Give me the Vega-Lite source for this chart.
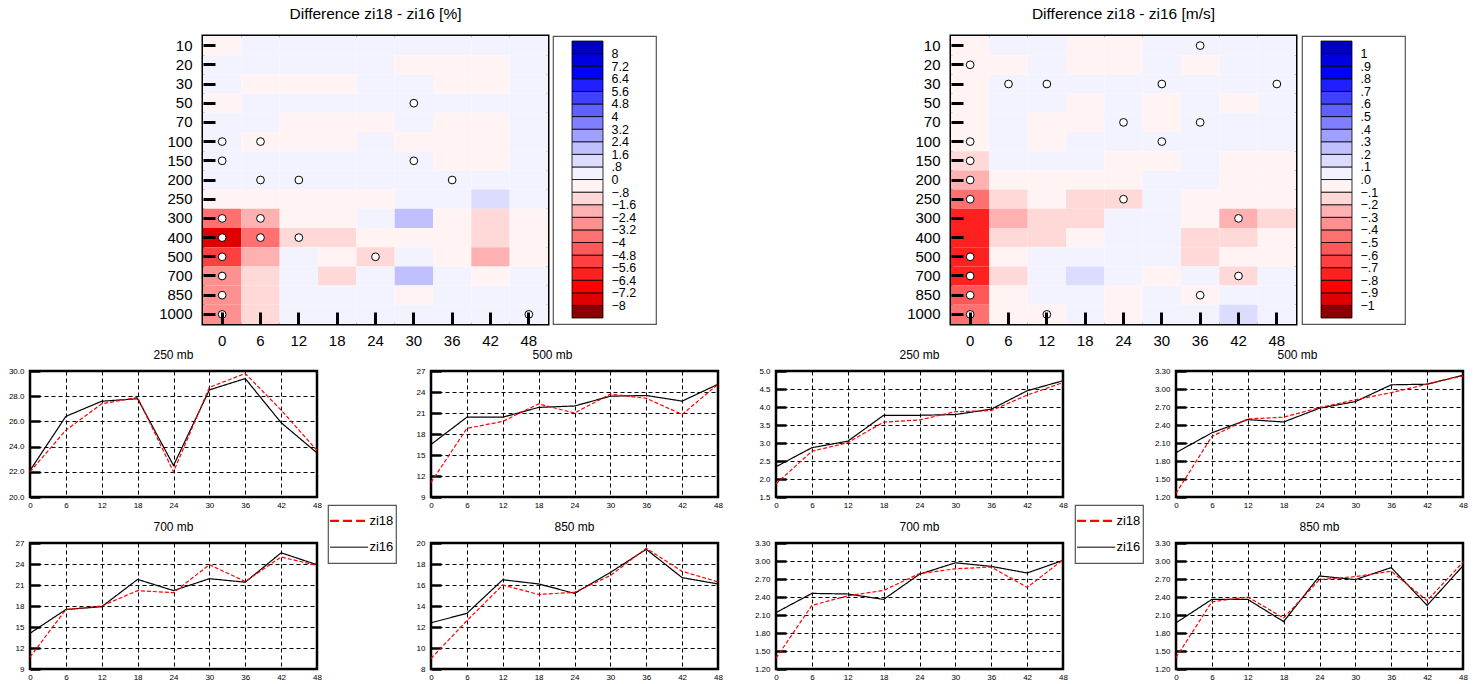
{
"$schema": "https://vega.github.io/schema/vega-lite/v6.json",
"padding": {"top": 5, "left": 0, "right": 0, "bottom": 0},
"config": {"font": "Liberation Sans", "axis": {"labelFlush": false, "labelOverlap": false, "labelColor": "black", "tickColor": "black", "gridColor": "black", "domain": false}, "title": {"color": "black", "fontWeight": "normal"}},
"datasets": {
"pct": [
{"p":10,"t":0,"v":-0.2},{"p":10,"t":6,"v":0.2},{"p":10,"t":12,"v":0.2},{"p":10,"t":18,"v":0.2},{"p":10,"t":24,"v":0.2},{"p":10,"t":30,"v":0.2},{"p":10,"t":36,"v":0.2},{"p":10,"t":42,"v":0.1},{"p":10,"t":48,"v":0.2},
{"p":20,"t":0,"v":0.2},{"p":20,"t":6,"v":0.2},{"p":20,"t":12,"v":0.2},{"p":20,"t":18,"v":0.1},{"p":20,"t":24,"v":0.05},{"p":20,"t":30,"v":-0.2},{"p":20,"t":36,"v":-0.3},{"p":20,"t":42,"v":-0.3},{"p":20,"t":48,"v":0.2},
{"p":30,"t":0,"v":0.1},{"p":30,"t":6,"v":-0.3},{"p":30,"t":12,"v":-0.3},{"p":30,"t":18,"v":-0.2},{"p":30,"t":24,"v":0.1},{"p":30,"t":30,"v":0.1},{"p":30,"t":36,"v":-0.2},{"p":30,"t":42,"v":-0.2},{"p":30,"t":48,"v":0.1},
{"p":50,"t":0,"v":-0.2},{"p":50,"t":6,"v":0.2},{"p":50,"t":12,"v":0.2},{"p":50,"t":18,"v":0.2},{"p":50,"t":24,"v":0.2},{"p":50,"t":30,"v":0.3,"c":1},{"p":50,"t":36,"v":0.2},{"p":50,"t":42,"v":0.2},{"p":50,"t":48,"v":0.2},
{"p":70,"t":0,"v":0.2},{"p":70,"t":6,"v":0.2},{"p":70,"t":12,"v":-0.1},{"p":70,"t":18,"v":-0.3},{"p":70,"t":24,"v":-0.2},{"p":70,"t":30,"v":0.2},{"p":70,"t":36,"v":-0.3},{"p":70,"t":42,"v":-0.3},{"p":70,"t":48,"v":0.05},
{"p":100,"t":0,"v":0.2,"c":1},{"p":100,"t":6,"v":-0.3,"c":1},{"p":100,"t":12,"v":-0.3},{"p":100,"t":18,"v":-0.1},{"p":100,"t":24,"v":0.2},{"p":100,"t":30,"v":-0.1},{"p":100,"t":36,"v":-0.3},{"p":100,"t":42,"v":-0.3},{"p":100,"t":48,"v":0.2},
{"p":150,"t":0,"v":0.1,"c":1},{"p":150,"t":6,"v":0.2},{"p":150,"t":12,"v":0.2},{"p":150,"t":18,"v":0.2},{"p":150,"t":24,"v":0.2},{"p":150,"t":30,"v":0.3,"c":1},{"p":150,"t":36,"v":-0.1},{"p":150,"t":42,"v":-0.1},{"p":150,"t":48,"v":0.2},
{"p":200,"t":0,"v":0.2},{"p":200,"t":6,"v":0.3,"c":1},{"p":200,"t":12,"v":0.3,"c":1},{"p":200,"t":18,"v":0.3},{"p":200,"t":24,"v":0.3},{"p":200,"t":30,"v":0.3},{"p":200,"t":36,"v":0.3,"c":1},{"p":200,"t":42,"v":0.2},{"p":200,"t":48,"v":0.2},
{"p":250,"t":0,"v":-0.6},{"p":250,"t":6,"v":-0.5},{"p":250,"t":12,"v":-0.3},{"p":250,"t":18,"v":-0.2},{"p":250,"t":24,"v":-0.2},{"p":250,"t":30,"v":0.1},{"p":250,"t":36,"v":0.1},{"p":250,"t":42,"v":0.9},{"p":250,"t":48,"v":0.1},
{"p":300,"t":0,"v":-3.5,"c":1},{"p":300,"t":6,"v":-2.0,"c":1},{"p":300,"t":12,"v":-0.5},{"p":300,"t":18,"v":-0.2},{"p":300,"t":24,"v":0.3},{"p":300,"t":30,"v":1.8},{"p":300,"t":36,"v":-0.3},{"p":300,"t":42,"v":-0.9},{"p":300,"t":48,"v":-0.3},
{"p":400,"t":0,"v":-7.5,"c":1},{"p":400,"t":6,"v":-3.5,"c":1},{"p":400,"t":12,"v":-1.0,"c":1},{"p":400,"t":18,"v":-0.9},{"p":400,"t":24,"v":-0.3},{"p":400,"t":30,"v":-0.2},{"p":400,"t":36,"v":-0.3},{"p":400,"t":42,"v":-1.0},{"p":400,"t":48,"v":-0.4},
{"p":500,"t":0,"v":-5.5,"c":1},{"p":500,"t":6,"v":-1.8},{"p":500,"t":12,"v":0.1},{"p":500,"t":18,"v":-0.2},{"p":500,"t":24,"v":-0.9,"c":1},{"p":500,"t":30,"v":0.3},{"p":500,"t":36,"v":-0.3},{"p":500,"t":42,"v":-1.7},{"p":500,"t":48,"v":-0.3},
{"p":700,"t":0,"v":-2.8,"c":1},{"p":700,"t":6,"v":-1.2},{"p":700,"t":12,"v":0.1},{"p":700,"t":18,"v":-1.0},{"p":700,"t":24,"v":0.2},{"p":700,"t":30,"v":1.8},{"p":700,"t":36,"v":0.2},{"p":700,"t":42,"v":-0.3},{"p":700,"t":48,"v":0.2},
{"p":850,"t":0,"v":-2.8,"c":1},{"p":850,"t":6,"v":-1.2},{"p":850,"t":12,"v":0.2},{"p":850,"t":18,"v":0.2},{"p":850,"t":24,"v":0.2},{"p":850,"t":30,"v":-0.3},{"p":850,"t":36,"v":0.2},{"p":850,"t":42,"v":0.2},{"p":850,"t":48,"v":0.2},
{"p":1000,"t":0,"v":-2.5,"c":1},{"p":1000,"t":6,"v":-0.9},{"p":1000,"t":12,"v":0.2},{"p":1000,"t":18,"v":0.1},{"p":1000,"t":24,"v":0.2},{"p":1000,"t":30,"v":0.2},{"p":1000,"t":36,"v":0.2},{"p":1000,"t":42,"v":0.2},{"p":1000,"t":48,"v":0.1,"c":1}
],
"ms": [
{"p":10,"t":0,"v":-0.05},{"p":10,"t":6,"v":0.05},{"p":10,"t":12,"v":0.05},{"p":10,"t":18,"v":-0.05},{"p":10,"t":24,"v":-0.05},{"p":10,"t":30,"v":0.05},{"p":10,"t":36,"v":0.05,"c":1},{"p":10,"t":42,"v":0.05},{"p":10,"t":48,"v":0.05},
{"p":20,"t":0,"v":-0.05,"c":1},{"p":20,"t":6,"v":-0.03},{"p":20,"t":12,"v":0.05},{"p":20,"t":18,"v":-0.05},{"p":20,"t":24,"v":-0.05},{"p":20,"t":30,"v":0.05},{"p":20,"t":36,"v":-0.05},{"p":20,"t":42,"v":0.05},{"p":20,"t":48,"v":0.05},
{"p":30,"t":0,"v":-0.05},{"p":30,"t":6,"v":0.05,"c":1},{"p":30,"t":12,"v":0.05,"c":1},{"p":30,"t":18,"v":0.05},{"p":30,"t":24,"v":0.05},{"p":30,"t":30,"v":0.05,"c":1},{"p":30,"t":36,"v":0.05},{"p":30,"t":42,"v":0.05},{"p":30,"t":48,"v":0.05,"c":1},
{"p":50,"t":0,"v":-0.05},{"p":50,"t":6,"v":0.05},{"p":50,"t":12,"v":0.05},{"p":50,"t":18,"v":-0.05},{"p":50,"t":24,"v":0.05},{"p":50,"t":30,"v":-0.05},{"p":50,"t":36,"v":0.05},{"p":50,"t":42,"v":-0.05},{"p":50,"t":48,"v":0.05},
{"p":70,"t":0,"v":-0.05},{"p":70,"t":6,"v":0.05},{"p":70,"t":12,"v":-0.02},{"p":70,"t":18,"v":-0.05},{"p":70,"t":24,"v":0.05,"c":1},{"p":70,"t":30,"v":-0.05},{"p":70,"t":36,"v":0.05,"c":1},{"p":70,"t":42,"v":0.05},{"p":70,"t":48,"v":0.05},
{"p":100,"t":0,"v":-0.08,"c":1},{"p":100,"t":6,"v":0.05},{"p":100,"t":12,"v":-0.02},{"p":100,"t":18,"v":0.02},{"p":100,"t":24,"v":0.05},{"p":100,"t":30,"v":0.05,"c":1},{"p":100,"t":36,"v":0.03},{"p":100,"t":42,"v":0.05},{"p":100,"t":48,"v":0.05},
{"p":150,"t":0,"v":-0.15,"c":1},{"p":150,"t":6,"v":0.05},{"p":150,"t":12,"v":0.05},{"p":150,"t":18,"v":0.03},{"p":150,"t":24,"v":-0.03},{"p":150,"t":30,"v":-0.03},{"p":150,"t":36,"v":0.05},{"p":150,"t":42,"v":-0.02},{"p":150,"t":48,"v":-0.03},
{"p":200,"t":0,"v":-0.25,"c":1},{"p":200,"t":6,"v":-0.02},{"p":200,"t":12,"v":-0.02},{"p":200,"t":18,"v":-0.05},{"p":200,"t":24,"v":-0.02},{"p":200,"t":30,"v":0.05},{"p":200,"t":36,"v":0.05},{"p":200,"t":42,"v":-0.05},{"p":200,"t":48,"v":-0.05},
{"p":250,"t":0,"v":-0.5,"c":1},{"p":250,"t":6,"v":-0.15},{"p":250,"t":12,"v":-0.05},{"p":250,"t":18,"v":-0.15},{"p":250,"t":24,"v":-0.15,"c":1},{"p":250,"t":30,"v":0.05},{"p":250,"t":36,"v":-0.02},{"p":250,"t":42,"v":-0.1},{"p":250,"t":48,"v":-0.08},
{"p":300,"t":0,"v":-0.8},{"p":300,"t":6,"v":-0.3},{"p":300,"t":12,"v":-0.15},{"p":300,"t":18,"v":-0.12},{"p":300,"t":24,"v":0.02},{"p":300,"t":30,"v":0.05},{"p":300,"t":36,"v":-0.08},{"p":300,"t":42,"v":-0.25,"c":1},{"p":300,"t":48,"v":-0.12},
{"p":400,"t":0,"v":-0.8},{"p":400,"t":6,"v":-0.15},{"p":400,"t":12,"v":-0.12},{"p":400,"t":18,"v":-0.05},{"p":400,"t":24,"v":0.03},{"p":400,"t":30,"v":0.05},{"p":400,"t":36,"v":-0.12},{"p":400,"t":42,"v":-0.15},{"p":400,"t":48,"v":-0.08},
{"p":500,"t":0,"v":-0.8,"c":1},{"p":500,"t":6,"v":-0.1},{"p":500,"t":12,"v":0.02},{"p":500,"t":18,"v":0.05},{"p":500,"t":24,"v":0.05},{"p":500,"t":30,"v":0.05},{"p":500,"t":36,"v":-0.11},{"p":500,"t":42,"v":-0.05},{"p":500,"t":48,"v":-0.05},
{"p":700,"t":0,"v":-0.8,"c":1},{"p":700,"t":6,"v":-0.2},{"p":700,"t":12,"v":0.03},{"p":700,"t":18,"v":0.15},{"p":700,"t":24,"v":0.05},{"p":700,"t":30,"v":-0.05},{"p":700,"t":36,"v":0.05},{"p":700,"t":42,"v":-0.15,"c":1},{"p":700,"t":48,"v":0.05},
{"p":850,"t":0,"v":-0.6,"c":1},{"p":850,"t":6,"v":-0.05},{"p":850,"t":12,"v":0.05},{"p":850,"t":18,"v":0.05},{"p":850,"t":24,"v":-0.05},{"p":850,"t":30,"v":0.05},{"p":850,"t":36,"v":-0.05,"c":1},{"p":850,"t":42,"v":0.05},{"p":850,"t":48,"v":0.05},
{"p":1000,"t":0,"v":-0.45,"c":1},{"p":1000,"t":6,"v":-0.1},{"p":1000,"t":12,"v":-0.03,"c":1},{"p":1000,"t":18,"v":0.05},{"p":1000,"t":24,"v":-0.05},{"p":1000,"t":30,"v":0.05},{"p":1000,"t":36,"v":0.05},{"p":1000,"t":42,"v":0.15},{"p":1000,"t":48,"v":0.05}
],
"legpct": [
{"lo":-8.8,"hi":-8,"m":-8.4},{"lo":-8,"hi":-7.2,"m":-7.6},{"lo":-7.2,"hi":-6.4,"m":-6.8},{"lo":-6.4,"hi":-5.6,"m":-6},{"lo":-5.6,"hi":-4.8,"m":-5.2},{"lo":-4.8,"hi":-4,"m":-4.4},{"lo":-4,"hi":-3.2,"m":-3.6},{"lo":-3.2,"hi":-2.4,"m":-2.8},{"lo":-2.4,"hi":-1.6,"m":-2},{"lo":-1.6,"hi":-0.8,"m":-1.2},{"lo":-0.8,"hi":0,"m":-0.4},
{"lo":0,"hi":0.8,"m":0.4},{"lo":0.8,"hi":1.6,"m":1.2},{"lo":1.6,"hi":2.4,"m":2},{"lo":2.4,"hi":3.2,"m":2.8},{"lo":3.2,"hi":4,"m":3.6},{"lo":4,"hi":4.8,"m":4.4},{"lo":4.8,"hi":5.6,"m":5.2},{"lo":5.6,"hi":6.4,"m":6},{"lo":6.4,"hi":7.2,"m":6.8},{"lo":7.2,"hi":8,"m":7.6},{"lo":8,"hi":8.8,"m":8.4}
],
"legms": [
{"lo":-1.1,"hi":-1,"m":-1.05},{"lo":-1,"hi":-0.9,"m":-0.95},{"lo":-0.9,"hi":-0.8,"m":-0.85},{"lo":-0.8,"hi":-0.7,"m":-0.75},{"lo":-0.7,"hi":-0.6,"m":-0.65},{"lo":-0.6,"hi":-0.5,"m":-0.55},{"lo":-0.5,"hi":-0.4,"m":-0.45},{"lo":-0.4,"hi":-0.3,"m":-0.35},{"lo":-0.3,"hi":-0.2,"m":-0.25},{"lo":-0.2,"hi":-0.1,"m":-0.15},{"lo":-0.1,"hi":0,"m":-0.05},
{"lo":0,"hi":0.1,"m":0.05},{"lo":0.1,"hi":0.2,"m":0.15},{"lo":0.2,"hi":0.3,"m":0.25},{"lo":0.3,"hi":0.4,"m":0.35},{"lo":0.4,"hi":0.5,"m":0.45},{"lo":0.5,"hi":0.6,"m":0.55},{"lo":0.6,"hi":0.7,"m":0.65},{"lo":0.7,"hi":0.8,"m":0.75},{"lo":0.8,"hi":0.9,"m":0.85},{"lo":0.9,"hi":1,"m":0.95},{"lo":1,"hi":1.1,"m":1.05}
],
"lines": [
{"g":"p250","t":0,"zi16":22.1,"zi18":22.0},{"g":"p250","t":6,"zi16":26.4,"zi18":25.3},{"g":"p250","t":12,"zi16":27.6,"zi18":27.4},{"g":"p250","t":18,"zi16":27.8,"zi18":27.9},{"g":"p250","t":24,"zi16":22.5,"zi18":22.0},{"g":"p250","t":30,"zi16":28.5,"zi18":28.7},{"g":"p250","t":36,"zi16":29.4,"zi18":29.8},{"g":"p250","t":42,"zi16":25.9,"zi18":26.9},{"g":"p250","t":48,"zi16":23.5,"zi18":23.7},
{"g":"p500","t":0,"zi16":16.5,"zi18":11.1},{"g":"p500","t":6,"zi16":20.4,"zi18":18.8},{"g":"p500","t":12,"zi16":20.4,"zi18":19.8},{"g":"p500","t":18,"zi16":21.8,"zi18":22.3},{"g":"p500","t":24,"zi16":22.0,"zi18":21.0},{"g":"p500","t":30,"zi16":23.4,"zi18":23.7},{"g":"p500","t":36,"zi16":23.5,"zi18":23.1},{"g":"p500","t":42,"zi16":22.7,"zi18":20.8},{"g":"p500","t":48,"zi16":25.1,"zi18":25.1},
{"g":"p700","t":0,"zi16":14.1,"zi18":10.7},{"g":"p700","t":6,"zi16":17.5,"zi18":17.5},{"g":"p700","t":12,"zi16":17.9,"zi18":18.0},{"g":"p700","t":18,"zi16":21.8,"zi18":20.2},{"g":"p700","t":24,"zi16":20.2,"zi18":19.9},{"g":"p700","t":30,"zi16":21.9,"zi18":23.9},{"g":"p700","t":36,"zi16":21.4,"zi18":21.5},{"g":"p700","t":42,"zi16":25.6,"zi18":25.0},{"g":"p700","t":48,"zi16":23.9,"zi18":23.8},
{"g":"p850","t":0,"zi16":12.4,"zi18":9.0},{"g":"p850","t":6,"zi16":13.3,"zi18":12.6},{"g":"p850","t":12,"zi16":16.5,"zi18":16.0},{"g":"p850","t":18,"zi16":16.1,"zi18":15.1},{"g":"p850","t":24,"zi16":15.2,"zi18":15.3},{"g":"p850","t":30,"zi16":17.2,"zi18":16.9},{"g":"p850","t":36,"zi16":19.4,"zi18":19.5},{"g":"p850","t":42,"zi16":16.7,"zi18":17.3},{"g":"p850","t":48,"zi16":16.1,"zi18":16.3},
{"g":"m250","t":0,"zi16":2.34,"zi18":1.87},{"g":"m250","t":6,"zi16":2.87,"zi18":2.77},{"g":"m250","t":12,"zi16":3.05,"zi18":3.01},{"g":"m250","t":18,"zi16":3.77,"zi18":3.58},{"g":"m250","t":24,"zi16":3.77,"zi18":3.64},{"g":"m250","t":30,"zi16":3.79,"zi18":3.87},{"g":"m250","t":36,"zi16":3.94,"zi18":3.90},{"g":"m250","t":42,"zi16":4.45,"zi18":4.33},{"g":"m250","t":48,"zi16":4.73,"zi18":4.68},
{"g":"m500","t":0,"zi16":1.94,"zi18":1.26},{"g":"m500","t":6,"zi16":2.27,"zi18":2.21},{"g":"m500","t":12,"zi16":2.49,"zi18":2.50},{"g":"m500","t":18,"zi16":2.45,"zi18":2.53},{"g":"m500","t":24,"zi16":2.68,"zi18":2.69},{"g":"m500","t":30,"zi16":2.79,"zi18":2.82},{"g":"m500","t":36,"zi16":3.07,"zi18":2.94},{"g":"m500","t":42,"zi16":3.08,"zi18":3.08},{"g":"m500","t":48,"zi16":3.23,"zi18":3.22},
{"g":"m700","t":0,"zi16":2.14,"zi18":1.38},{"g":"m700","t":6,"zi16":2.46,"zi18":2.26},{"g":"m700","t":12,"zi16":2.45,"zi18":2.42},{"g":"m700","t":18,"zi16":2.36,"zi18":2.51},{"g":"m700","t":24,"zi16":2.78,"zi18":2.79},{"g":"m700","t":30,"zi16":2.97,"zi18":2.87},{"g":"m700","t":36,"zi16":2.91,"zi18":2.90},{"g":"m700","t":42,"zi16":2.80,"zi18":2.56},{"g":"m700","t":48,"zi16":3.01,"zi18":3.02},
{"g":"m850","t":0,"zi16":1.97,"zi18":1.39},{"g":"m850","t":6,"zi16":2.36,"zi18":2.32},{"g":"m850","t":12,"zi16":2.36,"zi18":2.40},{"g":"m850","t":18,"zi16":1.99,"zi18":2.05},{"g":"m850","t":24,"zi16":2.75,"zi18":2.69},{"g":"m850","t":30,"zi16":2.69,"zi18":2.74},{"g":"m850","t":36,"zi16":2.89,"zi18":2.83},{"g":"m850","t":42,"zi16":2.26,"zi18":2.34},{"g":"m850","t":48,"zi16":2.92,"zi18":2.98}
],
"leg": [{"s":"zi18"},{"s":"zi16"}]
},
"resolve": {"scale": {"color": "independent", "strokeDash": "independent"}},
"spacing": -3,
"vconcat": [
{
"spacing": 0,
"resolve": {"scale": {"color": "independent"}},
"hconcat": [
{"width": 157, "height": 1, "data": {"values": []}, "mark": "rect", "view": {"stroke": null}},
{"width": 345, "height": 288,
 "title": {"text": "Difference zi18 - zi16 [%]", "fontSize": 15.5, "offset": 12, "frame": "group"},
 "data": {"name": "pct"},
 "view": {"stroke": "black", "strokeWidth": 3},
 "layer": [
  {"mark": {"type": "rect"},
   "encoding": {
    "x": {"field": "t", "type": "ordinal", "scale": {"domain": [0,6,12,18,24,30,36,42,48]}, "axis": {"orient": "bottom", "title": null, "labelAngle": 0, "labelFontSize": 15, "tickSize": -12, "tickWidth": 3, "labelPadding": 21, "grid": false}},
    "y": {"field": "p", "type": "ordinal", "scale": {"domain": [10,20,30,50,70,100,150,200,250,300,400,500,700,850,1000]}, "axis": {"orient": "left", "title": null, "labelFontSize": 15, "tickSize": -12, "tickWidth": 3, "labelPadding": 23, "grid": false}},
    "color": {"field": "v", "type": "quantitative", "scale": {"type": "threshold", "domain": [-8,-7.2,-6.4,-5.6,-4.8,-4,-3.2,-2.4,-1.6,-0.8,0,0.8,1.6,2.4,3.2,4,4.8,5.6,6.4,7.2,8], "range": ["#8b0000","#e00000","#ff0000","#ff2020","#ff4040","#ff5858","#ff7070","#ff9090","#ffb0b0","#ffd8d8","#fff3f3","#f3f3ff","#dcdcff","#c0c0ff","#a0a0ff","#8080ff","#6060ff","#4040ff","#2020ff","#0000ff","#0000e0","#0000c0"]}, "legend": null}
   }},
  {"transform": [{"filter": "datum.c == 1"}],
   "mark": {"type": "circle", "fill": "white", "stroke": "black", "strokeWidth": 1, "size": 60, "opacity": 1},
   "encoding": {
    "x": {"field": "t", "type": "ordinal", "axis": {"orient": "top", "title": null, "labels": false, "tickSize": -10, "tickWidth": 3, "grid": false}},
    "y": {"field": "p", "type": "ordinal", "axis": {"orient": "right", "title": null, "labels": false, "tickSize": -12, "tickWidth": 3, "grid": false}}
   }}
 ],
 "resolve": {"axis": {"x": "independent", "y": "independent"}}
},
{"width": 1, "height": 1, "data": {"values": []}, "mark": "rect", "view": {"stroke": null}},
{"width": 103, "height": 288,
 "data": {"name": "legpct"},
 "view": {"stroke": "#555", "strokeWidth": 1.2},
 "mark": {"type": "rect", "stroke": "black", "strokeWidth": 0.8},
 "encoding": {
  "x": {"datum": 0, "type": "quantitative", "scale": {"domain": [-0.613, 2.71], "nice": false, "zero": false}, "axis": null},
  "x2": {"datum": 1},
  "y": {"field": "lo", "type": "quantitative", "scale": {"domain": [-9.18, 9.12], "nice": false, "zero": false}, "axis": {"orient": "right", "offset": -53, "values": [-8,-7.2,-6.4,-5.6,-4.8,-4,-3.2,-2.4,-1.6,-0.8,0,0.8,1.6,2.4,3.2,4,4.8,5.6,6.4,7.2,8], "labelExpr": "datum.value == 0 ? '0' : replace(replace(format(datum.value, '.1~f'), '0.', '.'), '-', '−')", "ticks": false, "grid": false, "title": null, "labelFontSize": 12.5, "labelPadding": 8}},
  "y2": {"field": "hi"},
  "color": {"field": "m", "type": "quantitative", "scale": {"type": "threshold", "domain": [-8,-7.2,-6.4,-5.6,-4.8,-4,-3.2,-2.4,-1.6,-0.8,0,0.8,1.6,2.4,3.2,4,4.8,5.6,6.4,7.2,8], "range": ["#8b0000","#e00000","#ff0000","#ff2020","#ff4040","#ff5858","#ff7070","#ff9090","#ffb0b0","#ffd8d8","#fff3f3","#f3f3ff","#dcdcff","#c0c0ff","#a0a0ff","#8080ff","#6060ff","#4040ff","#2020ff","#0000ff","#0000e0","#0000c0"]}, "legend": null}
 }
},
{"width": 248, "height": 1, "data": {"values": []}, "mark": "rect", "view": {"stroke": null}},
{"width": 345, "height": 288,
 "title": {"text": "Difference zi18 - zi16 [m/s]", "fontSize": 15.5, "offset": 12, "frame": "group"},
 "data": {"name": "ms"},
 "view": {"stroke": "black", "strokeWidth": 3},
 "layer": [
  {"mark": {"type": "rect"},
   "encoding": {
    "x": {"field": "t", "type": "ordinal", "scale": {"domain": [0,6,12,18,24,30,36,42,48]}, "axis": {"orient": "bottom", "title": null, "labelAngle": 0, "labelFontSize": 15, "tickSize": -12, "tickWidth": 3, "labelPadding": 21, "grid": false}},
    "y": {"field": "p", "type": "ordinal", "scale": {"domain": [10,20,30,50,70,100,150,200,250,300,400,500,700,850,1000]}, "axis": {"orient": "left", "title": null, "labelFontSize": 15, "tickSize": -12, "tickWidth": 3, "labelPadding": 23, "grid": false}},
    "color": {"field": "v", "type": "quantitative", "scale": {"type": "threshold", "domain": [-1,-0.9,-0.8,-0.7,-0.6,-0.5,-0.4,-0.3,-0.2,-0.1,0,0.1,0.2,0.3,0.4,0.5,0.6,0.7,0.8,0.9,1], "range": ["#8b0000","#e00000","#ff0000","#ff2020","#ff4040","#ff5858","#ff7070","#ff9090","#ffb0b0","#ffd8d8","#fff3f3","#f3f3ff","#dcdcff","#c0c0ff","#a0a0ff","#8080ff","#6060ff","#4040ff","#2020ff","#0000ff","#0000e0","#0000c0"]}, "legend": null}
   }},
  {"transform": [{"filter": "datum.c == 1"}],
   "mark": {"type": "circle", "fill": "white", "stroke": "black", "strokeWidth": 1, "size": 60, "opacity": 1},
   "encoding": {
    "x": {"field": "t", "type": "ordinal", "axis": {"orient": "top", "title": null, "labels": false, "tickSize": -10, "tickWidth": 3, "grid": false}},
    "y": {"field": "p", "type": "ordinal", "axis": {"orient": "right", "title": null, "labels": false, "tickSize": -12, "tickWidth": 3, "grid": false}}
   }}
 ],
 "resolve": {"axis": {"x": "independent", "y": "independent"}}
},
{"width": 2, "height": 1, "data": {"values": []}, "mark": "rect", "view": {"stroke": null}},
{"width": 103, "height": 288,
 "data": {"name": "legms"},
 "view": {"stroke": "#555", "strokeWidth": 1.2},
 "mark": {"type": "rect", "stroke": "black", "strokeWidth": 0.8},
 "encoding": {
  "x": {"datum": 0, "type": "quantitative", "scale": {"domain": [-0.613, 2.71], "nice": false, "zero": false}, "axis": null},
  "x2": {"datum": 1},
  "y": {"field": "lo", "type": "quantitative", "scale": {"domain": [-1.1475, 1.14], "nice": false, "zero": false}, "axis": {"orient": "right", "offset": -53, "values": [-1,-0.9,-0.8,-0.7,-0.6,-0.5,-0.4,-0.3,-0.2,-0.1,0,0.1,0.2,0.3,0.4,0.5,0.6,0.7,0.8,0.9,1], "labelExpr": "datum.value == 0 ? '.0' : replace(replace(format(datum.value, '.1~f'), '0.', '.'), '-', '−')", "ticks": false, "grid": false, "title": null, "labelFontSize": 12.5, "labelPadding": 8}},
  "y2": {"field": "hi"},
  "color": {"field": "m", "type": "quantitative", "scale": {"type": "threshold", "domain": [-1,-0.9,-0.8,-0.7,-0.6,-0.5,-0.4,-0.3,-0.2,-0.1,0,0.1,0.2,0.3,0.4,0.5,0.6,0.7,0.8,0.9,1], "range": ["#8b0000","#e00000","#ff0000","#ff2020","#ff4040","#ff5858","#ff7070","#ff9090","#ffb0b0","#ffd8d8","#fff3f3","#f3f3ff","#dcdcff","#c0c0ff","#a0a0ff","#8080ff","#6060ff","#4040ff","#2020ff","#0000ff","#0000e0","#0000c0"]}, "legend": null}
 }
}
]
},
{
"spacing": 0,
"resolve": {"scale": {"color": "independent", "strokeDash": "independent"}},
"hconcat": [
{"width": 7, "height": 1, "data": {"values": []}, "mark": "rect", "view": {"stroke": null}},
{"spacing": 8, "resolve": {"scale": {"color": "independent", "strokeDash": "independent"}}, "vconcat": [
 {"width": 287, "height": 126, "title": {"text": "250 mb", "fontSize": 12, "offset": 5, "frame": "group"},
  "data": {"name": "lines"}, "transform": [{"filter": "datum.g == 'p250'"}, {"fold": ["zi16", "zi18"], "as": ["s", "y"]}],
  "view": {"stroke": "black", "strokeWidth": 2.5},
  "mark": {"type": "line", "strokeWidth": 1.2},
  "encoding": {
   "x": {"field": "t", "type": "quantitative", "scale": {"domain": [0, 48], "nice": false}, "axis": {"values": [0,6,12,18,24,30,36,42,48], "title": null, "grid": true, "gridDash": [4,3], "ticks": false, "labelFontSize": 8, "labelPadding": 4}},
   "y": {"field": "y", "type": "quantitative", "scale": {"domain": [20, 30], "nice": false, "zero": false}, "axis": {"values": [20,22,24,26,28,30], "format": ".1f", "title": null, "grid": true, "gridDash": [4,3], "tickSize": -10, "tickWidth": 2.5, "labelFontSize": 8, "labelPadding": 16}},
   "color": {"field": "s", "type": "nominal", "scale": {"domain": ["zi16", "zi18"], "range": ["black", "red"]}, "legend": null},
   "strokeDash": {"field": "s", "type": "nominal", "scale": {"domain": ["zi16", "zi18"], "range": [[1, 0], [4, 2]]}, "legend": null}
  }},
 {"width": 287, "height": 126, "title": {"text": "700 mb", "fontSize": 12, "offset": 5, "frame": "group"},
  "data": {"name": "lines"}, "transform": [{"filter": "datum.g == 'p700'"}, {"fold": ["zi16", "zi18"], "as": ["s", "y"]}],
  "view": {"stroke": "black", "strokeWidth": 2.5},
  "mark": {"type": "line", "strokeWidth": 1.2},
  "encoding": {
   "x": {"field": "t", "type": "quantitative", "scale": {"domain": [0, 48], "nice": false}, "axis": {"values": [0,6,12,18,24,30,36,42,48], "title": null, "grid": true, "gridDash": [4,3], "ticks": false, "labelFontSize": 8, "labelPadding": 4}},
   "y": {"field": "y", "type": "quantitative", "scale": {"domain": [9, 27], "nice": false, "zero": false}, "axis": {"values": [9,12,15,18,21,24,27], "format": "d", "title": null, "grid": true, "gridDash": [4,3], "tickSize": -10, "tickWidth": 2.5, "labelFontSize": 8, "labelPadding": 16}},
   "color": {"field": "s", "type": "nominal", "scale": {"domain": ["zi16", "zi18"], "range": ["black", "red"]}, "legend": null},
   "strokeDash": {"field": "s", "type": "nominal", "scale": {"domain": ["zi16", "zi18"], "range": [[1, 0], [4, 2]]}, "legend": null}
  }}
]},
{"width": 4, "height": 1, "data": {"values": []}, "mark": "rect", "view": {"stroke": null}},
{"spacing": 0, "vconcat": [
 {"width": 68, "height": 133, "data": {"values": []}, "mark": "rect", "view": {"stroke": null}},
 {"width": 68, "height": 58, "data": {"name": "leg"}, "view": {"stroke": "#555", "strokeWidth": 1.2},
  "layer": [
   {"transform": [{"filter": "datum.s == 'zi18'"}], "mark": {"type": "rule", "color": "red", "strokeWidth": 2.2, "strokeDash": [9, 4]},
    "encoding": {"x": {"datum": 0.03, "type": "quantitative", "scale": {"domain": [0, 1]}, "axis": null}, "x2": {"datum": 0.59}, "y": {"field": "s", "type": "nominal", "scale": {"type": "point", "domain": ["zi18", "zi16"], "padding": 0.6}, "axis": null}}},
   {"transform": [{"filter": "datum.s == 'zi16'"}], "mark": {"type": "rule", "color": "black", "strokeWidth": 1},
    "encoding": {"x": {"datum": 0.03, "type": "quantitative"}, "x2": {"datum": 0.59}, "y": {"field": "s", "type": "nominal"}}},
   {"mark": {"type": "text", "align": "left", "baseline": "middle", "fontSize": 13, "color": "black"},
    "encoding": {"x": {"datum": 0.61, "type": "quantitative"}, "y": {"field": "s", "type": "nominal"}, "text": {"field": "s"}}}
  ]}
]},
{"width": 17, "height": 1, "data": {"values": []}, "mark": "rect", "view": {"stroke": null}},
{"spacing": 8, "resolve": {"scale": {"color": "independent", "strokeDash": "independent"}}, "vconcat": [
 {"width": 287, "height": 126, "title": {"text": "500 mb", "fontSize": 12, "offset": 5, "frame": "group", "dx": -22},
  "data": {"name": "lines"}, "transform": [{"filter": "datum.g == 'p500'"}, {"fold": ["zi16", "zi18"], "as": ["s", "y"]}],
  "view": {"stroke": "black", "strokeWidth": 2.5},
  "mark": {"type": "line", "strokeWidth": 1.2},
  "encoding": {
   "x": {"field": "t", "type": "quantitative", "scale": {"domain": [0, 48], "nice": false}, "axis": {"values": [0,6,12,18,24,30,36,42,48], "title": null, "grid": true, "gridDash": [4,3], "ticks": false, "labelFontSize": 8, "labelPadding": 4}},
   "y": {"field": "y", "type": "quantitative", "scale": {"domain": [9, 27], "nice": false, "zero": false}, "axis": {"values": [9,12,15,18,21,24,27], "format": "d", "title": null, "grid": true, "gridDash": [4,3], "tickSize": -10, "tickWidth": 2.5, "labelFontSize": 8, "labelPadding": 16}},
   "color": {"field": "s", "type": "nominal", "scale": {"domain": ["zi16", "zi18"], "range": ["black", "red"]}, "legend": null},
   "strokeDash": {"field": "s", "type": "nominal", "scale": {"domain": ["zi16", "zi18"], "range": [[1, 0], [4, 2]]}, "legend": null}
  }},
 {"width": 287, "height": 126, "title": {"text": "850 mb", "fontSize": 12, "offset": 5, "frame": "group"},
  "data": {"name": "lines"}, "transform": [{"filter": "datum.g == 'p850'"}, {"fold": ["zi16", "zi18"], "as": ["s", "y"]}],
  "view": {"stroke": "black", "strokeWidth": 2.5},
  "mark": {"type": "line", "strokeWidth": 1.2},
  "encoding": {
   "x": {"field": "t", "type": "quantitative", "scale": {"domain": [0, 48], "nice": false}, "axis": {"values": [0,6,12,18,24,30,36,42,48], "title": null, "grid": true, "gridDash": [4,3], "ticks": false, "labelFontSize": 8, "labelPadding": 4}},
   "y": {"field": "y", "type": "quantitative", "scale": {"domain": [8, 20], "nice": false, "zero": false}, "axis": {"values": [8,10,12,14,16,18,20], "format": "d", "title": null, "grid": true, "gridDash": [4,3], "tickSize": -10, "tickWidth": 2.5, "labelFontSize": 8, "labelPadding": 16}},
   "color": {"field": "s", "type": "nominal", "scale": {"domain": ["zi16", "zi18"], "range": ["black", "red"]}, "legend": null},
   "strokeDash": {"field": "s", "type": "nominal", "scale": {"domain": ["zi16", "zi18"], "range": [[1, 0], [4, 2]]}, "legend": null}
  }}
]},
{"width": 29, "height": 1, "data": {"values": []}, "mark": "rect", "view": {"stroke": null}},
{"spacing": 8, "resolve": {"scale": {"color": "independent", "strokeDash": "independent"}}, "vconcat": [
 {"width": 287, "height": 126, "title": {"text": "250 mb", "fontSize": 12, "offset": 5, "frame": "group"},
  "data": {"name": "lines"}, "transform": [{"filter": "datum.g == 'm250'"}, {"fold": ["zi16", "zi18"], "as": ["s", "y"]}],
  "view": {"stroke": "black", "strokeWidth": 2.5},
  "mark": {"type": "line", "strokeWidth": 1.2},
  "encoding": {
   "x": {"field": "t", "type": "quantitative", "scale": {"domain": [0, 48], "nice": false}, "axis": {"values": [0,6,12,18,24,30,36,42,48], "title": null, "grid": true, "gridDash": [4,3], "ticks": false, "labelFontSize": 8, "labelPadding": 4}},
   "y": {"field": "y", "type": "quantitative", "scale": {"domain": [1.5, 5], "nice": false, "zero": false}, "axis": {"values": [1.5,2,2.5,3,3.5,4,4.5,5], "format": ".1f", "title": null, "grid": true, "gridDash": [4,3], "tickSize": -10, "tickWidth": 2.5, "labelFontSize": 8, "labelPadding": 16}},
   "color": {"field": "s", "type": "nominal", "scale": {"domain": ["zi16", "zi18"], "range": ["black", "red"]}, "legend": null},
   "strokeDash": {"field": "s", "type": "nominal", "scale": {"domain": ["zi16", "zi18"], "range": [[1, 0], [4, 2]]}, "legend": null}
  }},
 {"width": 287, "height": 126, "title": {"text": "700 mb", "fontSize": 12, "offset": 5, "frame": "group"},
  "data": {"name": "lines"}, "transform": [{"filter": "datum.g == 'm700'"}, {"fold": ["zi16", "zi18"], "as": ["s", "y"]}],
  "view": {"stroke": "black", "strokeWidth": 2.5},
  "mark": {"type": "line", "strokeWidth": 1.2},
  "encoding": {
   "x": {"field": "t", "type": "quantitative", "scale": {"domain": [0, 48], "nice": false}, "axis": {"values": [0,6,12,18,24,30,36,42,48], "title": null, "grid": true, "gridDash": [4,3], "ticks": false, "labelFontSize": 8, "labelPadding": 4}},
   "y": {"field": "y", "type": "quantitative", "scale": {"domain": [1.2, 3.3], "nice": false, "zero": false}, "axis": {"values": [1.2,1.5,1.8,2.1,2.4,2.7,3.0,3.3], "format": ".2f", "title": null, "grid": true, "gridDash": [4,3], "tickSize": -10, "tickWidth": 2.5, "labelFontSize": 8, "labelPadding": 16}},
   "color": {"field": "s", "type": "nominal", "scale": {"domain": ["zi16", "zi18"], "range": ["black", "red"]}, "legend": null},
   "strokeDash": {"field": "s", "type": "nominal", "scale": {"domain": ["zi16", "zi18"], "range": [[1, 0], [4, 2]]}, "legend": null}
  }}
]},
{"width": 5, "height": 1, "data": {"values": []}, "mark": "rect", "view": {"stroke": null}},
{"spacing": 0, "vconcat": [
 {"width": 68, "height": 133, "data": {"values": []}, "mark": "rect", "view": {"stroke": null}},
 {"width": 68, "height": 58, "data": {"name": "leg"}, "view": {"stroke": "#555", "strokeWidth": 1.2},
  "layer": [
   {"transform": [{"filter": "datum.s == 'zi18'"}], "mark": {"type": "rule", "color": "red", "strokeWidth": 2.2, "strokeDash": [9, 4]},
    "encoding": {"x": {"datum": 0.03, "type": "quantitative", "scale": {"domain": [0, 1]}, "axis": null}, "x2": {"datum": 0.59}, "y": {"field": "s", "type": "nominal", "scale": {"type": "point", "domain": ["zi18", "zi16"], "padding": 0.6}, "axis": null}}},
   {"transform": [{"filter": "datum.s == 'zi16'"}], "mark": {"type": "rule", "color": "black", "strokeWidth": 1},
    "encoding": {"x": {"datum": 0.03, "type": "quantitative"}, "x2": {"datum": 0.59}, "y": {"field": "s", "type": "nominal"}}},
   {"mark": {"type": "text", "align": "left", "baseline": "middle", "fontSize": 13, "color": "black"},
    "encoding": {"x": {"datum": 0.61, "type": "quantitative"}, "y": {"field": "s", "type": "nominal"}, "text": {"field": "s"}}}
  ]}
]},
{"width": 9, "height": 1, "data": {"values": []}, "mark": "rect", "view": {"stroke": null}},
{"spacing": 8, "resolve": {"scale": {"color": "independent", "strokeDash": "independent"}}, "vconcat": [
 {"width": 287, "height": 126, "title": {"text": "500 mb", "fontSize": 12, "offset": 5, "frame": "group", "dx": -22},
  "data": {"name": "lines"}, "transform": [{"filter": "datum.g == 'm500'"}, {"fold": ["zi16", "zi18"], "as": ["s", "y"]}],
  "view": {"stroke": "black", "strokeWidth": 2.5},
  "mark": {"type": "line", "strokeWidth": 1.2},
  "encoding": {
   "x": {"field": "t", "type": "quantitative", "scale": {"domain": [0, 48], "nice": false}, "axis": {"values": [0,6,12,18,24,30,36,42,48], "title": null, "grid": true, "gridDash": [4,3], "ticks": false, "labelFontSize": 8, "labelPadding": 4}},
   "y": {"field": "y", "type": "quantitative", "scale": {"domain": [1.2, 3.3], "nice": false, "zero": false}, "axis": {"values": [1.2,1.5,1.8,2.1,2.4,2.7,3.0,3.3], "format": ".2f", "title": null, "grid": true, "gridDash": [4,3], "tickSize": -10, "tickWidth": 2.5, "labelFontSize": 8, "labelPadding": 16}},
   "color": {"field": "s", "type": "nominal", "scale": {"domain": ["zi16", "zi18"], "range": ["black", "red"]}, "legend": null},
   "strokeDash": {"field": "s", "type": "nominal", "scale": {"domain": ["zi16", "zi18"], "range": [[1, 0], [4, 2]]}, "legend": null}
  }},
 {"width": 287, "height": 126, "title": {"text": "850 mb", "fontSize": 12, "offset": 5, "frame": "group"},
  "data": {"name": "lines"}, "transform": [{"filter": "datum.g == 'm850'"}, {"fold": ["zi16", "zi18"], "as": ["s", "y"]}],
  "view": {"stroke": "black", "strokeWidth": 2.5},
  "mark": {"type": "line", "strokeWidth": 1.2},
  "encoding": {
   "x": {"field": "t", "type": "quantitative", "scale": {"domain": [0, 48], "nice": false}, "axis": {"values": [0,6,12,18,24,30,36,42,48], "title": null, "grid": true, "gridDash": [4,3], "ticks": false, "labelFontSize": 8, "labelPadding": 4}},
   "y": {"field": "y", "type": "quantitative", "scale": {"domain": [1.2, 3.3], "nice": false, "zero": false}, "axis": {"values": [1.2,1.5,1.8,2.1,2.4,2.7,3.0,3.3], "format": ".2f", "title": null, "grid": true, "gridDash": [4,3], "tickSize": -10, "tickWidth": 2.5, "labelFontSize": 8, "labelPadding": 16}},
   "color": {"field": "s", "type": "nominal", "scale": {"domain": ["zi16", "zi18"], "range": ["black", "red"]}, "legend": null},
   "strokeDash": {"field": "s", "type": "nominal", "scale": {"domain": ["zi16", "zi18"], "range": [[1, 0], [4, 2]]}, "legend": null}
  }}
]}
]
}
]
}
